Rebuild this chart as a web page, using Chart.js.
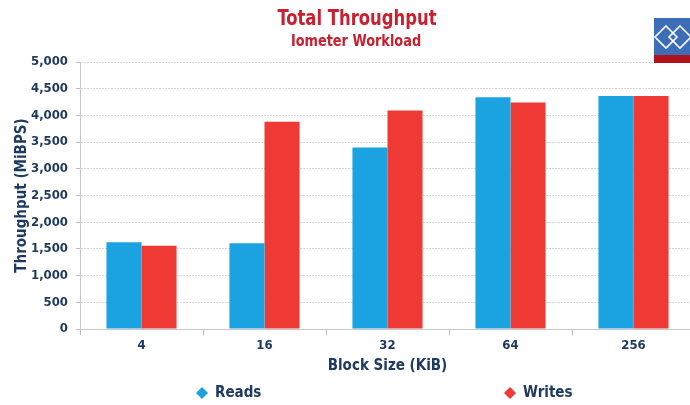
<!DOCTYPE html>
<html>
<head>
<meta charset="utf-8">
<script src="https://cdn.jsdelivr.net/npm/chart.js@4.4.1/dist/chart.umd.min.js"></script>
<style>
  html, body { margin: 0; padding: 0; background: #ffffff; overflow: hidden; }
  #wrap { position: relative; width: 695px; height: 405px; }
</style>
</head>
<body>
<div id="wrap"><canvas id="chart" width="695" height="405"></canvas></div>
<script>
// Block sizes (KiB) and measured throughput per block size (MiBPS)
const blockSizes = ['4', '16', '32', '64', '256'];
const readsMiBps = [1625, 1605, 3400, 4340, 4365];
const writesMiBps = [1560, 3880, 4090, 4240, 4365];
const seriesNames = ['Reads', 'Writes'];
const chartTitle = 'Total Throughput';
const chartSubtitle = 'Iometer Workload';

const READ_BLUE = '#1ba3e1';
const WRITE_RED = '#ef3935';
const NAVY = '#1f3a60';
const TITLE_RED = '#c8202f';
const COND = '"DejaVu Sans Condensed", "Liberation Sans", sans-serif';

// Draws centred text squeezed horizontally by sx
function narrowText(ctx, text, x, y, sx) {
  ctx.save();
  ctx.translate(x, y);
  ctx.scale(sx, 1);
  ctx.fillText(text, 0, 0);
  ctx.restore();
}

// Title, subtitle, legend and corner badge drawn directly onto the canvas
const decorations = {
  id: 'decorations',
  afterDraw(chart) {
    const ctx = chart.ctx;
    ctx.save();
    ctx.textAlign = 'center';
    ctx.textBaseline = 'middle';
    ctx.fillStyle = TITLE_RED;
    ctx.font = 'bold 21px ' + COND;
    narrowText(ctx, chartTitle, 357, 20, 0.87);
    ctx.font = 'bold 15px ' + COND;
    narrowText(ctx, chartSubtitle, 356, 42, 0.955);

    // legend
    const items = [
      { label: seriesNames[0], color: READ_BLUE, x: 202 },
      { label: seriesNames[1], color: WRITE_RED, x: 510 }
    ];
    ctx.textAlign = 'left';
    ctx.font = 'bold 15px ' + COND;
    items.forEach(it => {
      const cy = 393, r = 6;
      ctx.fillStyle = it.color;
      ctx.beginPath();
      ctx.moveTo(it.x, cy - r);
      ctx.lineTo(it.x + r, cy);
      ctx.lineTo(it.x, cy + r);
      ctx.lineTo(it.x - r, cy);
      ctx.closePath();
      ctx.fill();
      ctx.fillStyle = NAVY;
      ctx.fillText(it.label, it.x + 13, cy);
    });

    // corner badge
    ctx.fillStyle = '#3e6db8';
    ctx.fillRect(654, 18, 40, 38);
    ctx.fillStyle = '#b0121e';
    ctx.fillRect(654, 55, 40, 8);
    ctx.strokeStyle = '#ffffff';
    ctx.lineWidth = 1.6;
    [[666, 37, 11], [680, 37, 11]].forEach(([cx, cy, h]) => {
      ctx.beginPath();
      ctx.moveTo(cx, cy - h);
      ctx.lineTo(cx + h, cy);
      ctx.lineTo(cx, cy + h);
      ctx.lineTo(cx - h, cy);
      ctx.closePath();
      ctx.stroke();
    });
    ctx.restore();
  }
};

new Chart(document.getElementById('chart'), {
  type: 'bar',
  data: {
    labels: blockSizes,
    datasets: [
      { label: seriesNames[0], data: readsMiBps, backgroundColor: READ_BLUE, borderWidth: 0 },
      { label: seriesNames[1], data: writesMiBps, backgroundColor: WRITE_RED, borderWidth: 0 }
    ]
  },
  options: {
    responsive: false,
    animation: false,
    devicePixelRatio: 1,
    layout: { padding: { top: 62, bottom: 30, left: 0, right: 0 } },
    datasets: { bar: { categoryPercentage: 0.57, barPercentage: 1.0 } },
    plugins: {
      legend: { display: false },
      title: { display: false },
      tooltip: { enabled: false }
    },
    scales: {
      x: {
        grid: { drawOnChartArea: false, tickLength: 6, color: '#bdbdbd', offset: true },
        border: { color: '#c8c8c8', width: 1 },
        ticks: { color: NAVY, padding: 3, font: { family: COND, size: 13, weight: 'bold' } },
        title: {
          display: true, text: 'Block Size (KiB)', color: NAVY, padding: { top: 0, bottom: 0 },
          font: { family: COND, size: 15, weight: 'bold' }
        },
        afterFit(scale) { scale.height = 46; }
      },
      y: {
        min: 0, max: 5000,
        ticks: {
          stepSize: 500, color: NAVY, padding: 8,
          font: { family: COND, size: 13, weight: 'bold' },
          callback: v => v.toLocaleString('en-US')
        },
        grid: { color: '#d4d4d4', tickLength: 4, tickColor: '#bdbdbd', tickBorderDash: [] },
        border: { color: '#c8c8c8', width: 1, dash: [2, 1] },
        title: {
          display: true, text: 'Throughput (MiBPS)', color: NAVY, padding: { top: 13, bottom: 4 },
          font: { family: COND, size: 15, weight: 'bold' }
        },
        afterFit(scale) { scale.width = 80; }
      }
    }
  },
  plugins: [decorations]
});
</script>
</body>
</html>
